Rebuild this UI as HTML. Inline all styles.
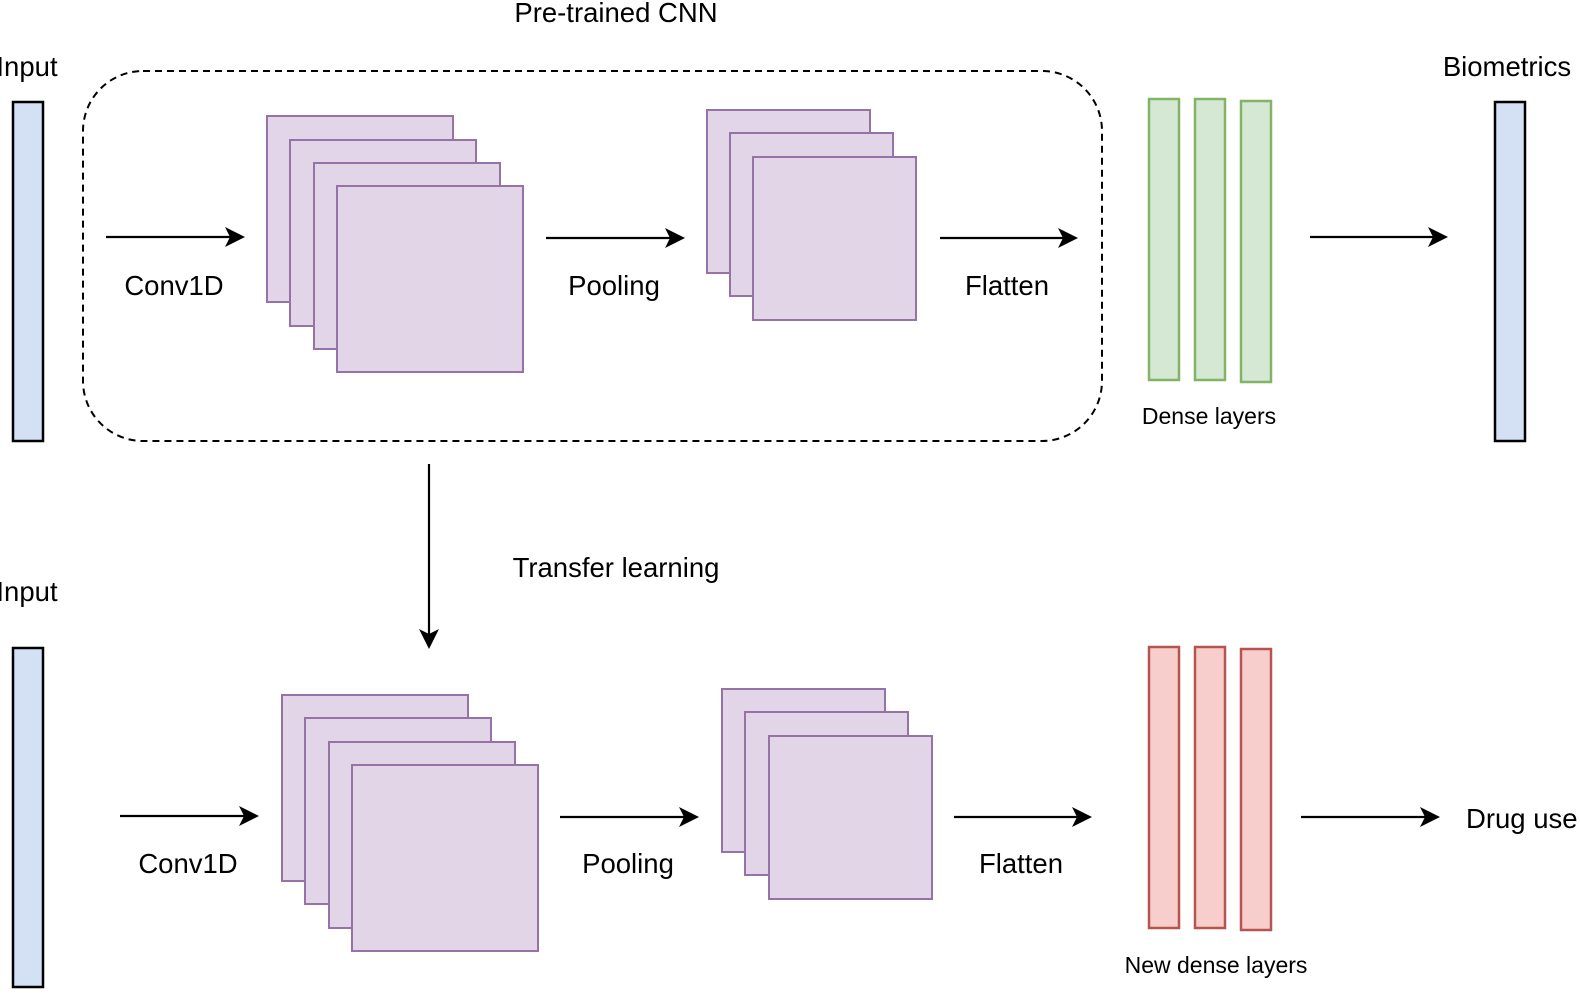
<!DOCTYPE html>
<html><head><meta charset="utf-8"><style>
html,body{margin:0;padding:0;background:#fff;}
svg{display:block;font-family:"Liberation Sans",Arial,sans-serif;}
</style></head><body>
<svg width="1580" height="996" viewBox="0 0 1580 996" xmlns="http://www.w3.org/2000/svg">
<g fill="#000" font-size="27.5" text-anchor="middle">
<text x="616" y="22">Pre-trained CNN</text>
<text x="27" y="76">Input</text>
<text x="1507" y="76">Biometrics</text>
<text x="174" y="295">Conv1D</text>
<text x="614" y="295">Pooling</text>
<text x="1007" y="295">Flatten</text>
<text x="1209" y="424" font-size="23">Dense layers</text>
<text x="616" y="577">Transfer learning</text>
<text x="27" y="601">Input</text>
<text x="188" y="873">Conv1D</text>
<text x="628" y="873">Pooling</text>
<text x="1021" y="873">Flatten</text>
<text x="1216" y="973" font-size="23">New dense layers</text>
<text x="1466" y="828" text-anchor="start">Drug use</text>
</g>
<rect x="83" y="71" width="1019" height="370" rx="60" fill="none" stroke="#000" stroke-width="2" stroke-dasharray="7,5"/>
<g fill="#d4e1f5" stroke="#000" stroke-width="2.5">
<rect x="13" y="102" width="30" height="339"/>
<rect x="1495" y="102" width="30" height="339"/>
<rect x="13" y="648" width="30" height="339"/>
</g>
<g fill="#e1d5e7" stroke="#9673a6" stroke-width="2">
<rect x="267" y="116" width="186" height="186"/>
<rect x="290" y="140" width="186" height="186"/>
<rect x="314" y="163" width="186" height="186"/>
<rect x="337" y="186" width="186" height="186"/>
<rect x="707" y="110" width="163" height="163"/>
<rect x="730" y="133" width="163" height="163"/>
<rect x="753" y="157" width="163" height="163"/>
<rect x="282" y="695" width="186" height="186"/>
<rect x="305" y="718" width="186" height="186"/>
<rect x="329" y="742" width="186" height="186"/>
<rect x="352" y="765" width="186" height="186"/>
<rect x="722" y="689" width="163" height="163"/>
<rect x="745" y="712" width="163" height="163"/>
<rect x="769" y="736" width="163" height="163"/>
</g>
<g fill="#d5e8d4" stroke="#82b366" stroke-width="2.5">
<rect x="1149" y="99" width="30" height="281"/>
<rect x="1195" y="99" width="30" height="281"/>
<rect x="1241" y="101" width="30" height="281"/>
</g>
<g fill="#f8cecc" stroke="#b85450" stroke-width="2.5">
<rect x="1149" y="647" width="30" height="281"/>
<rect x="1195" y="647" width="30" height="281"/>
<rect x="1241" y="649" width="30" height="281"/>
</g>
<g stroke="#000" stroke-width="2.2">
<line x1="106" y1="237" x2="232" y2="237"/>
<line x1="546" y1="238" x2="672" y2="238"/>
<line x1="940" y1="238" x2="1065" y2="238"/>
<line x1="1310" y1="237" x2="1435" y2="237"/>
<line x1="429" y1="464" x2="429" y2="636"/>
<line x1="120" y1="816" x2="246" y2="816"/>
<line x1="560" y1="817" x2="686" y2="817"/>
<line x1="954" y1="817" x2="1079" y2="817"/>
<line x1="1301" y1="817" x2="1427" y2="817"/>
</g>
<g fill="#000">
<polygon points="245,237 225,227 230,237 225,247"/>
<polygon points="685,238 665,228 670,238 665,248"/>
<polygon points="1078,238 1058,228 1063,238 1058,248"/>
<polygon points="1448,237 1428,227 1433,237 1428,247"/>
<polygon points="429,649 419,629 429,634 439,629"/>
<polygon points="259,816 239,806 244,816 239,826"/>
<polygon points="699,817 679,807 684,817 679,827"/>
<polygon points="1092,817 1072,807 1077,817 1072,827"/>
<polygon points="1440,817 1420,807 1425,817 1420,827"/>
</g>
</svg>
</body></html>
